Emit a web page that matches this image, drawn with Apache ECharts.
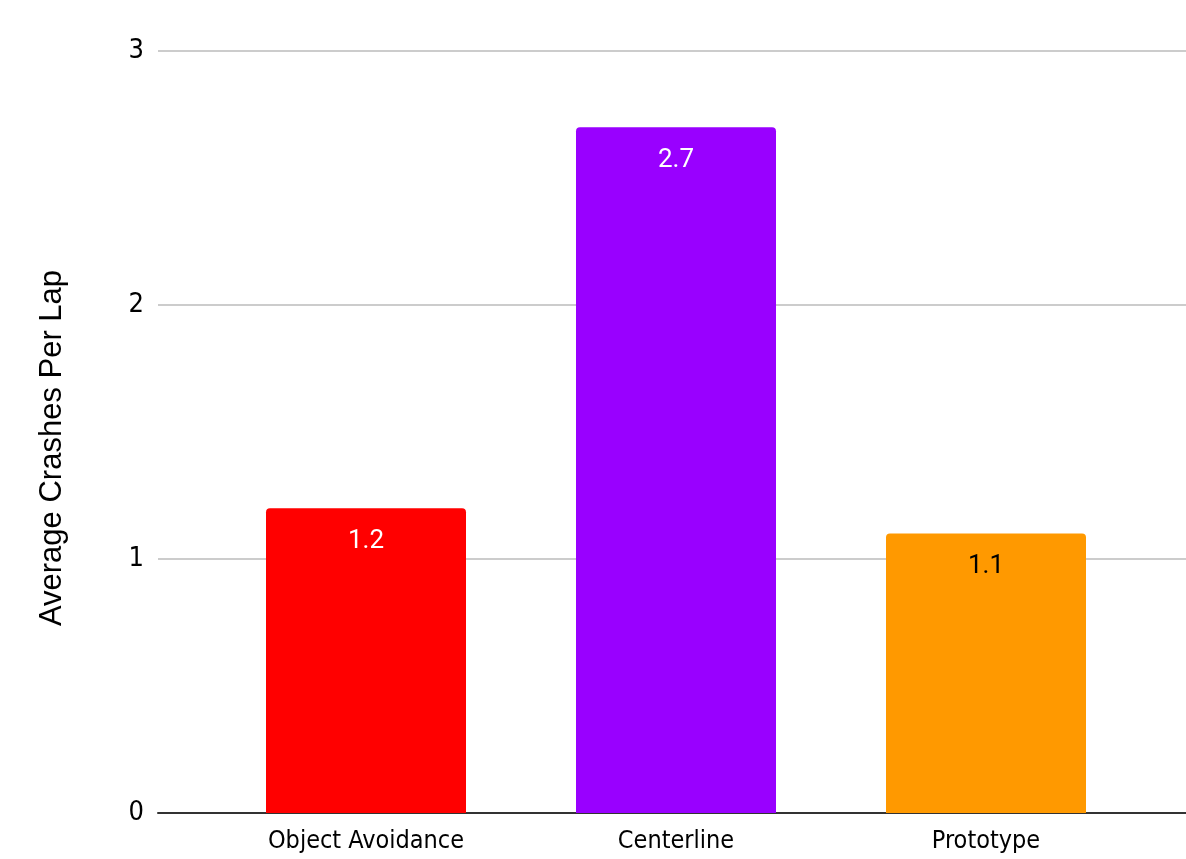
<!DOCTYPE html>
<html>
<head>
<meta charset="utf-8">
<script src="https://cdn.jsdelivr.net/npm/echarts@6/dist/echarts.min.js"></script>
<style>
  html, body { margin: 0; padding: 0; background: #fff; }
  #main { width: 1186px; height: 859px; }
</style>
</head>
<body>
<div id="main"></div>
<script>
var categories = ['Object Avoidance', 'Centerline', 'Prototype'];
var crashes = [1.2, 2.7, 1.1];
var barColors = ['#ff0000', '#9900ff', '#ff9900'];
var labelColors = ['#ffffff', '#ffffff', '#000000'];
var yTicks = [0, 1, 2, 3];

var chart = echarts.init(document.getElementById('main'));

var narrow = '"Liberation Sans Narrow", "DejaVu Sans Condensed", sans-serif';

chart.setOption({
  animation: false,
  grid: [
    // background grid: gridlines and baseline run wider than the bars
    { left: 158, right: -10, top: 51, bottom: 46 },
    { left: 211, right: 45, top: 51, bottom: 46 }
  ],
  xAxis: [
    {
      gridIndex: 0, type: 'value', min: 0, max: 1,
      axisLabel: { show: false }, axisTick: { show: false }, splitLine: { show: false },
      axisLine: { show: true, lineStyle: { color: '#333333', width: 2 } }
    },
    {
      gridIndex: 1, type: 'category', data: categories,
      axisLine: { show: false }, axisTick: { show: false },
      axisLabel: { color: '#000', fontFamily: narrow, fontSize: 25, margin: 16 }
    }
  ],
  yAxis: [
    {
      gridIndex: 0, type: 'value', min: yTicks[0], max: yTicks[yTicks.length - 1], interval: 1,
      name: 'Average Crashes Per Lap', nameLocation: 'middle', nameGap: 90,
      nameTextStyle: {
        fontFamily: '"Liberation Sans", Arial, sans-serif', fontSize: 31, color: '#000',
        padding: [0, 32, 0, 0]
      },
      axisLine: { show: false }, axisTick: { show: false },
      axisLabel: { color: '#000', fontFamily: narrow, fontSize: 27, margin: 14 },
      splitLine: { lineStyle: { color: '#cccccc', width: 2 } }
    },
    {
      gridIndex: 1, type: 'value', min: 0, max: 3, show: false
    }
  ],
  series: [{
    type: 'bar',
    xAxisIndex: 1,
    yAxisIndex: 1,
    barWidth: 200,
    data: crashes.map(function (v, i) {
      return {
        value: v,
        itemStyle: { color: barColors[i], borderRadius: [4, 4, 0, 0] },
        label: { color: labelColors[i] }
      };
    }),
    label: {
      show: true,
      position: 'insideTop',
      distance: 20,
      fontFamily: 'Roboto, sans-serif',
      fontSize: 26,
      formatter: function (p) { return p.value.toFixed(1); }
    }
  }]
});
</script>
</body>
</html>
